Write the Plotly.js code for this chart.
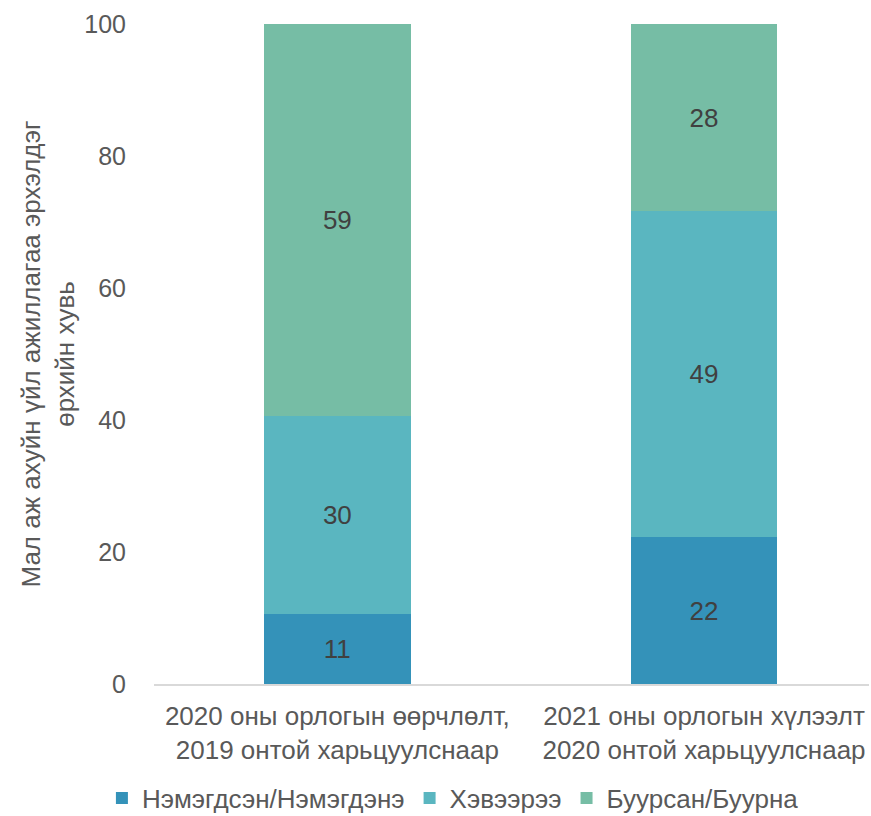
<!DOCTYPE html>
<html>
<head>
<meta charset="utf-8">
<script src="https://cdn.plot.ly/plotly-3.0.1.min.js"></script>
<style>html,body{margin:0;padding:0;background:#fff;}#chart{width:871px;height:816px;}</style>
</head>
<body>
<div id="chart"></div>
<script>
const categories = ["2020 оны орлогын өөрчлөлт,<br>2019 онтой харьцуулснаар", "2021 оны орлогын хүлээлт<br>2020 онтой харьцуулснаар"];
const seriesNames = ["Нэмэгдсэн/Нэмэгдэнэ", "Хэвээрээ", "Буурсан/Буурна"];
const increased = [10.6, 22.2];
const unchanged = [30.0, 49.4];
const decreased = [59.4, 28.4];
const yTicks = [0, 20, 40, 60, 80, 100];
const yTitle = "Мал аж ахуйн үйл ажиллагаа эрхэлдэг<br>өрхийн хувь";

const colors = ["#3492b9", "#5ab6c0", "#76bda5"];
const normal = "'Liberation Sans', Arial, sans-serif";

const values = [increased, unchanged, decreased];
const traces = values.map((v, i) => ({
  type: 'bar',
  name: seriesNames[i],
  x: categories,
  y: v,
  width: 0.4,
  marker: {color: colors[i], line: {width: 0}},
  texttemplate: '%{y:.0f}',
  textposition: 'inside',
  insidetextanchor: 'middle',
  textfont: {family: normal, size: 26, color: '#404040'},
  hoverinfo: 'none'
}));

const layout = {
  width: 871, height: 816,
  margin: {l: 154, r: 2, t: 24, b: 132},
  barmode: 'stack',
  paper_bgcolor: '#fff', plot_bgcolor: '#fff',
  showlegend: true,
  legend: {orientation: 'h', x: 0.52, xref: 'container', xanchor: 'center', y: 0.022, yref: 'container', yanchor: 'middle',
           font: {family: normal, size: 26, color: '#595959'}, itemwidth: 30, traceorder: 'normal'},
  xaxis: {
    type: 'category', range: [-0.5, 1.45], showgrid: false, zeroline: false,
    showline: true, linecolor: '#d9d9d9', linewidth: 2,
    ticks: 'outside', ticklen: 8, tickcolor: 'rgba(0,0,0,0)',
    tickfont: {family: normal, size: 26, color: '#595959'}
  },
  yaxis: {
    range: [0, 100], tickvals: yTicks, showgrid: false, zeroline: false, showline: false,
    ticks: 'outside', ticklen: 22, tickcolor: 'rgba(0,0,0,0)',
    tickfont: {family: normal, size: 25, color: '#595959'},
    title: {text: yTitle, font: {family: normal, size: 26, color: '#595959'}, standoff: 2}
  },
  font: {family: normal}
};

Plotly.newPlot('chart', traces, layout, {displayModeBar: false, staticPlot: true});
</script>
</body>
</html>
